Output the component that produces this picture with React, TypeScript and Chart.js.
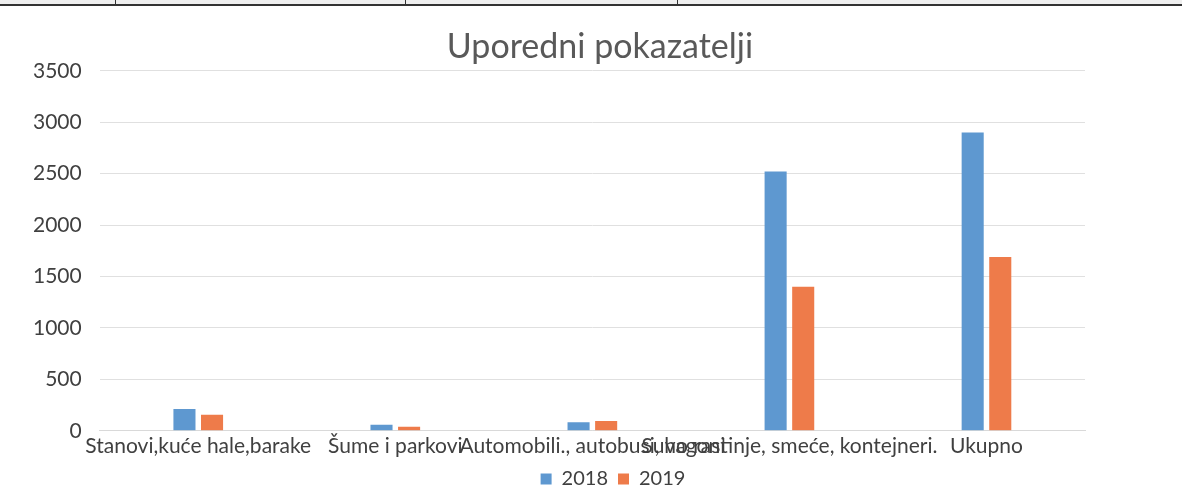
import React, { useEffect, useRef } from "react";
import { Chart, registerables } from "chart.js";

Chart.register(...registerables);

const categories = [
  "Stanovi,kuće hale,barake",
  "Šume i parkovi",
  "Automobili., autobusi, vagoni",
  "Suho rastinje, smeće, kontejneri.",
  "Ukupno",
];
const values2018 = [212, 60, 82, 2520, 2900];
const values2019 = [155, 40, 95, 1400, 1690];
const yTicks = [0, 500, 1000, 1500, 2000, 2500, 3000, 3500];

const FONT = "Lato, 'Open Sans', sans-serif";

const boxShift = {
  id: "boxShift",
  afterLayout(chart: any) {
    if (chart.legend) {
      chart.legend.left += 63;
      chart.legend.right += 63;
      chart.legend.top -= 3;
      chart.legend.bottom -= 3;
    }
    if (chart.titleBlock) {
      chart.titleBlock.left += 50;
      chart.titleBlock.right += 50;
    }
  },
};

export default function App() {
  const ref = useRef<HTMLCanvasElement | null>(null);

  useEffect(() => {
    document.body.style.margin = "0";
    const ctx = ref.current!.getContext("2d")!;
    const chart = new Chart(ctx, {
      type: "bar",
      data: {
        labels: categories,
        datasets: [
          { label: "2018", data: values2018, backgroundColor: "#5E98D0", categoryPercentage: 0.28, barPercentage: 0.8 },
          { label: "2019", data: values2019, backgroundColor: "#EE7B4A", categoryPercentage: 0.28, barPercentage: 0.8 },
        ],
      },
      plugins: [boxShift],
      options: {
        animation: false,
        responsive: false,
        maintainAspectRatio: false,
        layout: { padding: { left: 15, right: 97, top: 14, bottom: -13 } },
        plugins: {
          title: {
            display: true,
            text: "Uporedni pokazatelji",
            color: "#595959",
            font: { family: FONT, size: 34, weight: "normal" },
            padding: { top: 13, bottom: 3 },
          },
          legend: {
            position: "bottom",
            labels: {
              color: "#404040",
              font: { family: FONT, size: 20 },
              boxWidth: 11,
              boxHeight: 11,
              padding: 10,
            },
          },
          tooltip: { enabled: false },
        },
        scales: {
          x: {
            grid: { display: false, drawTicks: false },
            border: { display: true, color: "#d9d9d9" },
            ticks: {
              autoSkip: false,
              maxRotation: 0,
              minRotation: 0,
              color: "#404040",
              font: { family: FONT, size: 21 },
              padding: 3,
            },
          },
          y: {
            min: 0,
            max: 3500,
            afterBuildTicks: (axis: any) => {
              axis.ticks = yTicks.map((v) => ({ value: v }));
            },
            grid: { color: "#e0e0e0", drawTicks: false },
            border: { display: false },
            ticks: {
              color: "#404040",
              font: { family: FONT, size: 21 },
              padding: 18,
              callback: (v: any) => String(v),
            },
          },
        },
      },
    });
    return () => chart.destroy();
  }, []);

  return (
    <div style={{ position: "relative", width: 1182, height: 489, background: "#fff", overflow: "hidden" }}>
      <div style={{ position: "absolute", left: 0, top: 0, width: 1182, height: 4, background: "#efefef", borderBottom: "2px solid #333" }} />
      {[115, 405, 677].map((x) => (
        <div key={x} style={{ position: "absolute", left: x, top: 0, width: 1, height: 5, background: "#333" }} />
      ))}
      <canvas ref={ref} width={1182} height={489} style={{ position: "absolute", left: 0, top: 0 }} />
    </div>
  );
}
